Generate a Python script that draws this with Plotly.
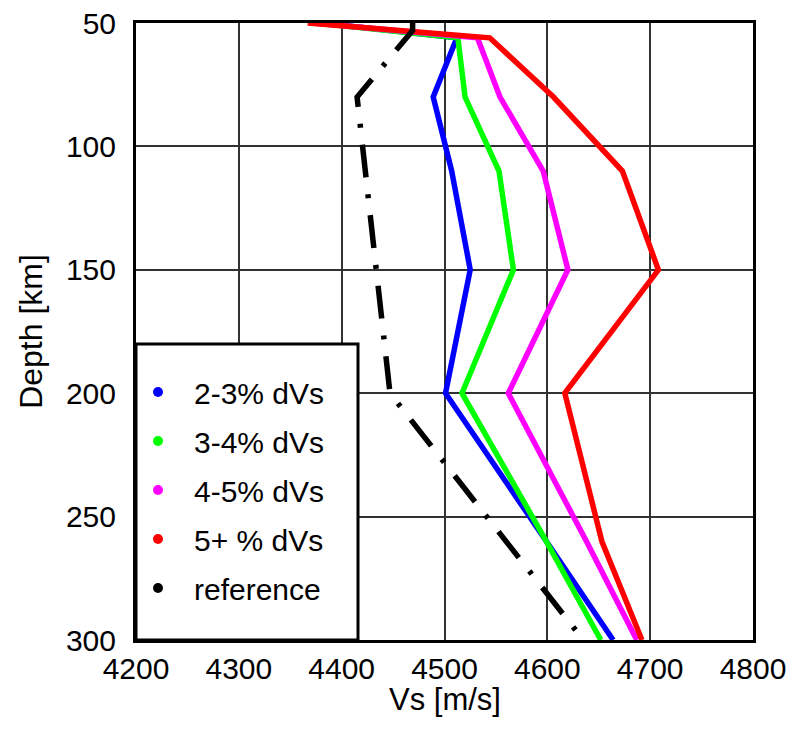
import plotly.graph_objects as go

# ---- data ----
depth = [50, 56, 80, 110, 150, 200, 260, 300]
vs_2_3 = [4380, 4512, 4489, 4507, 4525, 4501, 4599, 4664]
vs_3_4 = [4375, 4513, 4520, 4553, 4567, 4517, 4599, 4652]
vs_4_5 = [4372, 4532, 4554, 4596, 4620, 4562, 4638, 4687]
vs_5p = [4367, 4544, 4606, 4673, 4708, 4617, 4653, 4692]
ref_depth = [50, 53, 80, 200, 300]
vs_ref = [4469, 4469, 4415, 4447, 4635]

series_names = ["2-3% dVs", "3-4% dVs", "4-5% dVs", "5+ % dVs", "reference"]
series_colors = ["#0000ff", "#00ff00", "#ff00ff", "#ff0000", "#000000"]

x_ticks = [4200, 4300, 4400, 4500, 4600, 4700, 4800]
y_ticks = [50, 100, 150, 200, 250, 300]

FONT = "Liberation Sans, Arial, Helvetica, sans-serif"
# page has an 8px body margin; figure sized to fit inside the window
W, H = 780, 728
ML, MR, MT, MB = 128, 35, 15, 96
PW = W - ML - MR   # 617
PH = H - MT - MB   # 617

fig = go.Figure()

for vals, name, col in zip([vs_2_3, vs_3_4, vs_4_5, vs_5p], series_names[:4], series_colors[:4]):
    fig.add_trace(go.Scatter(x=vals, y=depth, mode="lines", name=name,
                             line=dict(color=col, width=5.5), showlegend=False))
fig.add_trace(go.Scatter(x=vs_ref, y=ref_depth, mode="lines", name="reference",
                         line=dict(color="black", width=5.5, dash="33px,17px,4px,17px"),
                         showlegend=False))

# legend entries (dots)
for i, (name, col) in enumerate(zip(series_names, series_colors)):
    fig.add_trace(go.Scatter(x=[None], y=[None], mode="markers", name=name,
                             legendgroup=f"g{i}",
                             marker=dict(color=col, size=10)))

grid = dict(showgrid=True, gridcolor="rgb(50,50,50)", gridwidth=1.5)

fig.update_layout(
    width=W, height=H,
    margin=dict(l=ML, r=MR, t=MT, b=MB, autoexpand=False),
    paper_bgcolor="white", plot_bgcolor="white",
    font=dict(family=FONT, size=30, color="black"),
    xaxis=dict(range=[4200, 4800], tickvals=x_ticks, ticks="", zeroline=False,
               automargin=False, ticklabelstandoff=0, ticklabeloverflow="allow",
               tickfont=dict(size=30),
               showline=True, linecolor="black", linewidth=3, mirror=True, **grid),
    yaxis=dict(range=[300, 50], tickvals=y_ticks, ticks="", zeroline=False,
               showline=True, linecolor="black", linewidth=3, mirror=True,
               ticklabelstandoff=11, tickfont=dict(size=30), automargin=False,
               ticklabeloverflow="allow",
               title=dict(text="Depth [km]", font=dict(size=32), standoff=14),
               **grid),
    legend=dict(x=-14 / PW, y=(PH - 343) / PH, xanchor="left", yanchor="top",
                bgcolor="rgba(0,0,0,0)", borderwidth=0,
                font=dict(size=30), tracegroupgap=7, itemwidth=62),
    shapes=[dict(type="rect", xref="paper", yref="paper", x0=0, x1=222 / PW,
                 y0=0, y1=296 / PH, fillcolor="white",
                 line=dict(color="black", width=3), layer="above")],
    annotations=[dict(text="Vs [m/s]", xref="paper", yref="paper",
                      x=0.5, y=-59 / PH, xanchor="center", yanchor="middle",
                      showarrow=False, font=dict(size=31))],
    showlegend=True,
)

fig.write_html("out.html")
